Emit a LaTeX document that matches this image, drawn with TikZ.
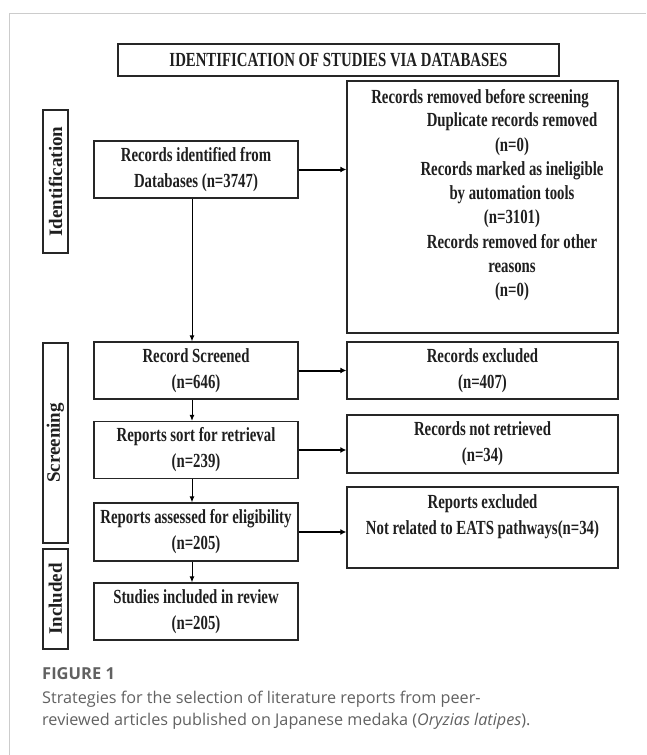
\documentclass[tikz,border=0pt]{standalone}
\usepackage{fontspec}
\setmainfont{Liberation Serif}
\newfontfamily\narrowserif[FakeStretch=0.74]{Liberation Serif}
\newfontfamily\captionsans{Open Sans}
\usetikzlibrary{arrows.meta,positioning,calc}

\begin{document}
\begin{tikzpicture}[
    x=1pt, y=-1pt,
    >=Latex,
    basebox/.style={
        draw=black!85,
        line width=1.3pt,
        inner sep=2pt,
        text=black!88,
        align=center,
        font=\narrowserif\bfseries\fontsize{20}{26}\selectfont
    },
    flowbox/.style={basebox, minimum width=204pt, minimum height=57pt},
    sidebox/.style={basebox, minimum width=271pt},
    stagebox/.style={
        basebox,
        rotate=90,
        inner sep=0pt,
        minimum height=25pt,
        font=\bfseries\fontsize{19}{24}\selectfont
    },
    plaintext/.style={
        inner sep=0pt,
        align=center,
        text=black!88,
        font=\narrowserif\bfseries\fontsize{20}{24.3}\selectfont
    },
    captext/.style={
        inner sep=0pt,
        align=left,
        text=black!62,
        font=\captionsans\fontsize{16.2}{22}\selectfont
    },
    thinarrow/.style={-{Latex[length=6pt,width=5pt]}, line width=1pt},
    thickarrow/.style={-{Latex[length=6pt,width=6pt]}, line width=2pt},
    frameline/.style={draw=black!20, line width=1pt}
]
\useasboundingbox (0,0) rectangle (646,755);

% frame of the figure panel
\draw[frameline] (9,755) -- (9,13) -- (646,13);

% --- HEADER ---
\node[basebox, minimum width=441pt, minimum height=32pt] (header) at (338.5,60)
{IDENTIFICATION OF STUDIES VIA DATABASES};

% --- STAGE LABELS ---
\node[stagebox, minimum width=143pt] (identstage) at (55.5,181.5) {Identification};
\node[stagebox, minimum width=200pt] (screenstage) at (55.5,443) {Screening};
\node[stagebox, minimum width=100pt] (inclstage) at (55.5,599) {Included};

% --- MAIN FLOW ---
\node[flowbox] (identified) at (196,169.5)
{Records identified from\\Databases (n=3747)};
\node[flowbox] (screened) at (196,370.5)
{Record Screened\\(n=646)};
\node[flowbox] (retrieval) at (196,450)
{Reports sort for retrieval\\(n=239)};
\node[flowbox, minimum height=58pt] (eligible) at (196,532)
{Reports assessed for eligibility\\(n=205)};
\node[flowbox] (included) at (196,611.5)
{Studies included in review\\(n=205)};

% --- SIDE BOXES ---
\node[sidebox, minimum height=252pt] (removed) at (482.5,207) {};
\node[plaintext] (removedhead) at (480,99) {Records removed before screening};
\node[plaintext] (removedlist) at (512,207)
{Duplicate records removed\\
(n=0)\\
Records marked as ineligible\\
by automation tools\\
(n=3101)\\
Records removed for other\\
reasons\\
(n=0)};

\node[sidebox, minimum height=57pt] (excluded) at (482.5,370.5)
{Records excluded\\(n=407)};
\node[sidebox, minimum height=58pt] (notretrieved) at (482.5,444)
{Records not retrieved\\(n=34)};
\node[sidebox, minimum height=81pt] (repexcluded) at (482.5,527.5)
{Reports excluded\\Not related to EATS pathways(n=34)\\\mbox{}};

% --- CONNECTIONS ---
\draw[thinarrow] ([xshift=-4pt]identified.south) -- ([xshift=-4pt]screened.north);
\draw[thinarrow] ([xshift=-4pt]screened.south) -- ([xshift=-4pt]retrieval.north);
\draw[thinarrow] ([xshift=-4pt]retrieval.south) -- ([xshift=-4pt]eligible.north);
\draw[thinarrow] ([xshift=-4pt]eligible.south) -- ([xshift=-4pt]included.north);

\draw[thickarrow] (identified.east) -- (identified.east -| removed.west);
\draw[thickarrow] (screened.east) -- (screened.east -| excluded.west);
\draw[thickarrow] (retrieval.east) -- (retrieval.east -| notretrieved.west);
\draw[thickarrow] (eligible.east) -- (eligible.east -| repexcluded.west);

% --- CAPTION ---
\node[captext, anchor=base west, font=\captionsans\bfseries\fontsize{16.5}{22}\selectfont] (figlabel) at (42,679) {FIGURE 1};
\node[captext, anchor=north west] (figcaption) at (42,691)
{Strategies for the selection of literature reports from peer-\\
reviewed articles published on Japanese medaka (\textit{Oryzias latipes}).};

\end{tikzpicture}
\end{document}
